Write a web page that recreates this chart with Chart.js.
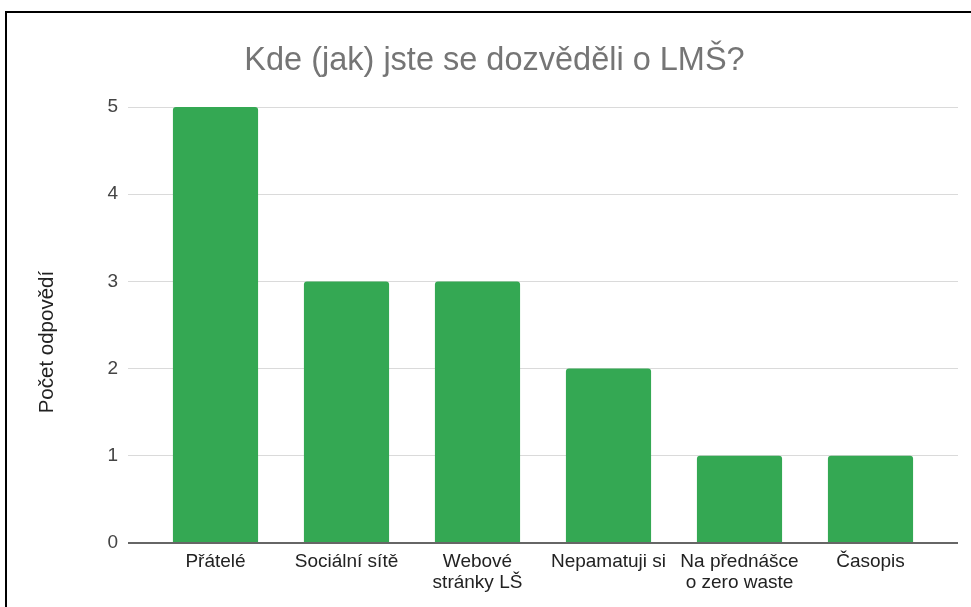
<!DOCTYPE html>
<html>
<head>
<meta charset="utf-8">
<script src="https://cdn.jsdelivr.net/npm/chart.js@4.4.1/dist/chart.umd.min.js"></script>
<style>
  html, body { margin: 0; padding: 0; background: #fff; }
  #wrap {
    position: absolute; left: 5px; top: 11px;
    width: 964px; height: 594px;
    border-top: 2px solid #000; border-left: 2px solid #000;
    background: #fff;
  }
  canvas { display: block; }
</style>
</head>
<body>
<div id="wrap"><canvas id="chart" width="964" height="594"></canvas></div>
<script>
var categories = ['Přátelé', 'Sociální sítě', ['Webové', 'stránky LŠ'], 'Nepamatuji si', ['Na přednášce', 'o zero waste'], 'Časopis'];
var answers = [5, 3, 3, 2, 1, 1];
var yTicks = [0, 1, 2, 3, 4, 5];

var font = 'Arial, "Liberation Sans", sans-serif';

function gridColor(ctx) { return ctx.tick && ctx.tick.value === 0 ? '#666' : '#dadada'; }
function gridWidth(ctx) { return ctx.tick && ctx.tick.value === 0 ? 2 : 1; }

let chart = new Chart(document.getElementById('chart'), {
    type: 'bar',
    data: {
        labels: categories,
        datasets: [
            {
                label: 'Počet odpovědí',
                backgroundColor: '#34A853',
                data: answers,
                categoryPercentage: 1,
                barPercentage: 0.65,
                borderRadius: { topLeft: 3, topRight: 3 },
                borderSkipped: 'bottom'
            }
        ]
    },
    options: {
        responsive: false,
        animation: false,
        layout: { padding: { left: 24, right: 13, top: 0, bottom: 0 } },
        plugins: {
            legend: { display: false },
            tooltip: { enabled: false },
            title: {
                display: true,
                text: 'Kde (jak) jste se dozvěděli o LMŠ?',
                color: '#757575',
                font: { family: font, size: 32.5, weight: 'normal' },
                padding: { top: 29, bottom: 26 }
            }
        },
        scales: {
            x: {
                afterFit: function (axis) { axis.height = 64; },
                grid: { display: false, drawTicks: false },
                border: { display: false },
                ticks: {
                    color: '#222',
                    font: { family: font, size: 19, lineHeight: 1.1 },
                    padding: 8,
                    maxRotation: 0,
                    autoSkip: false
                }
            },
            y: {
                min: 0,
                max: 5,
                afterBuildTicks: function (axis) {
                    axis.ticks = yTicks.map(function (v) { return { value: v }; });
                },
                afterFit: function (axis) { axis.width = 119; },
                border: { display: false },
                grid: { color: gridColor, lineWidth: gridWidth, tickLength: 22 },
                ticks: {
                    color: '#444',
                    font: { family: font, size: 19 },
                    padding: 10
                },
                title: {
                    display: true,
                    // trailing spaces push the label a little below the axis middle
                    text: 'Počet odpovědí      ',
                    color: '#222',
                    font: { family: font, size: 20.5 },
                    padding: { top: 4, bottom: 4 }
                }
            },
            y2: {
                position: 'right',
                min: 0,
                max: 5,
                afterBuildTicks: function (axis) {
                    axis.ticks = yTicks.map(function (v) { return { value: v }; });
                },
                afterFit: function (axis) { axis.width = 22; },
                border: { display: false },
                grid: { drawOnChartArea: false, color: gridColor, lineWidth: gridWidth, tickLength: 22 },
                ticks: { display: false }
            }
        }
    }
});
</script>
</body>
</html>
